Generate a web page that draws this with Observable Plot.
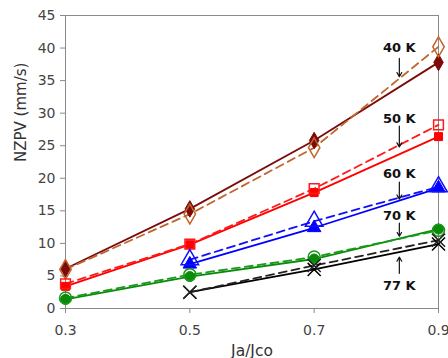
<!DOCTYPE html>
<html>
<head>
<meta charset="utf-8">
<script src="https://cdn.jsdelivr.net/npm/d3@7"></script>
<script src="https://cdn.jsdelivr.net/npm/@observablehq/plot@0.6"></script>
<style>
  html, body { margin: 0; padding: 0; background: #fff; }
</style>
</head>
<body>
<div id="chart"></div>
<script>
const xs = [0.3, 0.5, 0.7, 0.9];
const xTicks = [0.3, 0.5, 0.7, 0.9];
const yTicks = [0, 5, 10, 15, 20, 25, 30, 35, 40, 45];

const s40solid = [6.1, 15.3, 25.8, 37.8];
const s40dash  = [6.0, 14.5, 24.7, 40.2];
const s50solid = [3.4, 9.8, 17.8, 26.4];
const s50dash  = [3.8, 9.9, 18.4, 28.2];
const s60solid = [null, 6.8, 12.4, 18.5];
const s60dash  = [null, 7.5, 13.4, 18.7];
const s70solid = [1.4, 4.9, 7.6, 12.2];
const s70dash  = [1.6, 5.2, 7.9, 12.0];
const s77solid = [null, 2.5, 6.0, 9.9];
const s77dash  = [null, 2.5, 6.6, 10.5];

const labels = ["40 K", "50 K", "60 K", "70 K", "77 K"];
const labelX = [0.837, 0.837, 0.837, 0.837, 0.837];
const labelY = [40.1, 29.2, 20.7, 14.3, 3.5];
const arrowY1 = [38.4, 28.0, 19.4, 13.1, 5.4];
const arrowY2 = [35.6, 24.8, 16.8, 11.1, 7.9];

const series = [
  {name: "40s", vals: s40solid, color: "#7d0a0a", dash: null, symbol: "diamond", filled: true, r: 5},
  {name: "40d", vals: s40dash,  color: "#c0652d", dash: "8,5", symbol: "diamond", filled: false, r: 6},
  {name: "50s", vals: s50solid, color: "#ff0000", dash: null, symbol: "square", filled: true, r: 4.5},
  {name: "50d", vals: s50dash,  color: "#ff1a1a", dash: "8,5", symbol: "square", filled: false, r: 5.5},
  {name: "60s", vals: s60solid, color: "#0000ff", dash: null, symbol: "triangle", filled: true, r: 5},
  {name: "60d", vals: s60dash,  color: "#1010ff", dash: "8,5", symbol: "triangle", filled: false, r: 6.5},
  {name: "70s", vals: s70solid, color: "#0a8a0a", dash: null, symbol: "circle", filled: true, r: 5},
  {name: "70d", vals: s70dash,  color: "#1a9a1a", dash: "8,5", symbol: "circle", filled: false, r: 6},
  {name: "77s", vals: s77solid, color: "#000000", dash: null, symbol: "times", filled: false, r: 6},
  {name: "77d", vals: s77dash,  color: "#222222", dash: "8,5", symbol: "times", filled: false, r: 6}
];

function rows(s) {
  return xs.map((x, i) => ({x, y: s.vals[i]})).filter(d => d.y != null);
}

const marks = [
  Plot.frame({stroke: "#8a8a8a", strokeWidth: 1}),
  Plot.axisX({ticks: xTicks, tickFormat: d => d.toFixed(1), tickSize: 5, tickPadding: 12, stroke: "#8a8a8a", fill: "#444", fontSize: 14, label: null}),
  Plot.axisY({ticks: yTicks, tickSize: 5, tickPadding: 5, stroke: "#8a8a8a", fill: "#444", fontSize: 14, label: null}),
  Plot.text(["Ja/Jco"], {frameAnchor: "bottom", dy: 47, fontSize: 15.5, fill: "#333"}),
  Plot.text(["NZPV (mm/s)"], {frameAnchor: "left", dx: -44, rotate: -90, fontSize: 15, fill: "#333"})
];

for (const s of series) {
  marks.push(Plot.line(rows(s), {x: "x", y: "y", stroke: s.color, strokeWidth: 1.8, strokeDasharray: s.dash || undefined}));
}
for (const s of series) {
  marks.push(Plot.dot(rows(s), {
    x: "x", y: "y", symbol: s.symbol, r: s.r,
    stroke: s.color, strokeWidth: s.filled ? 1 : 1.5,
    fill: s.filled ? s.color : "none"
  }));
}

const ann = labels.map((t, i) => ({t, x: labelX[i], y: labelY[i], y1: arrowY1[i], y2: arrowY2[i]}));
marks.push(Plot.text(ann, {x: "x", y: "y", text: "t", fontSize: 13, fontWeight: "bold", fill: "#111"}));
marks.push(Plot.arrow(ann, {x1: "x", x2: "x", y1: "y1", y2: "y2", stroke: "#111", strokeWidth: 1.2, headLength: 6}));

const chart = Plot.plot({
  width: 448,
  height: 358,
  marginLeft: 65,
  marginRight: 10,
  marginTop: 15,
  marginBottom: 50,
  style: {fontFamily: "'DejaVu Sans', Verdana, sans-serif", background: "#fff", overflow: "visible"},
  x: {domain: [0.3, 0.9]},
  y: {domain: [0, 45]},
  marks
});
document.getElementById("chart").appendChild(chart);
</script>
</body>
</html>
